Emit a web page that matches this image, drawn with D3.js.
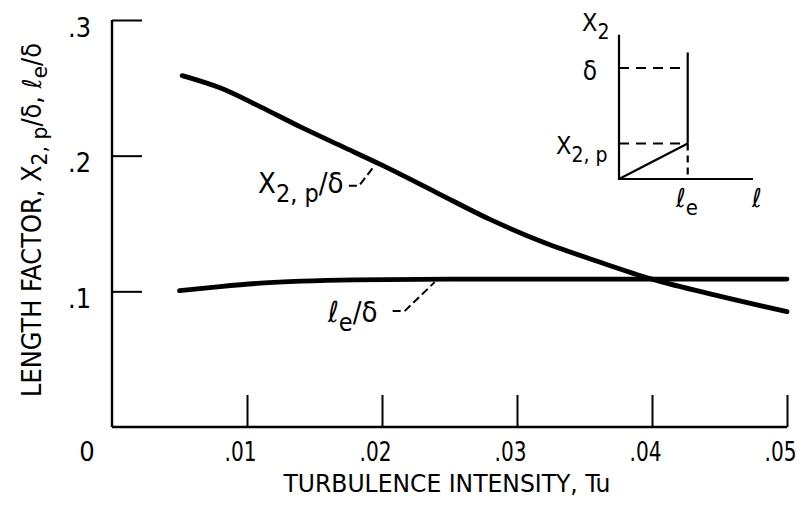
<!DOCTYPE html>
<html>
<head>
<meta charset="utf-8">
<script src="https://cdn.jsdelivr.net/npm/d3@7"></script>
<style>
  body { margin: 0; background: #fff; }
  svg { display: block; }
  text { font-family: "Liberation Sans Narrow", "DejaVu Sans Condensed", "Liberation Sans", sans-serif; fill: #000; }
</style>
</head>
<body>
<svg id="chart" width="804" height="505"></svg>
<script>
// Peak-location factor X2,p/δ against turbulence intensity
const tuX2p = [0.0052, 0.0080, 0.0110, 0.0140, 0.0170, 0.0200, 0.0240, 0.0280, 0.0320, 0.0360, 0.0400, 0.0450, 0.0500];
const x2p   = [0.259,  0.250,  0.236,  0.221,  0.207,  0.193,  0.173,  0.153,  0.136,  0.122,  0.109,  0.0965, 0.085];

// Length factor ℓe/δ against turbulence intensity
const tuLe = [0.0050, 0.0080, 0.0110, 0.0140, 0.0180, 0.0250, 0.0350, 0.0450, 0.0500];
const le   = [0.1005, 0.1035, 0.1060, 0.1075, 0.1085, 0.1090, 0.1090, 0.1090, 0.1090];

const xTicks = [0.01, 0.02, 0.03, 0.04, 0.05];
const xTickLabels = [".01", ".02", ".03", ".04", ".05"];
const yTicks = [0.1, 0.2, 0.3];
const yTickLabels = [".1", ".2", ".3"];
const originLabel = "0";

// Schematic inset: ℓ axis and X2 axis, in units of δ
const insetLe = 1.0;      // edge of the region, ℓe
const insetDelta = 1.0;   // δ
const insetX2p = 0.32;    // X2,p
const insetXMax = 1.95;
const insetYMax = 1.3;
const insetLeTop = 1.14;

const svg = d3.select("#chart");

const x = d3.scaleLinear().domain([0, 0.05]).range([112, 787]);
const y = d3.scaleLinear().domain([0, 0.3]).range([427, 20]);

// ---- axes ----
const xAxis = d3.axisBottom(x).tickValues(xTicks).tickSizeInner(-32).tickSizeOuter(0)
  .tickFormat((d, i) => xTickLabels[i]).tickPadding(0);
const gx = svg.append("g").attr("transform", `translate(0,${y(0)})`).call(xAxis);
gx.select(".domain").attr("stroke", "#000").attr("stroke-width", 2.4).attr("d", `M${x(0)},0H${x(0.05)}`);
gx.selectAll(".tick line").attr("stroke", "#000").attr("stroke-width", 2);
gx.selectAll(".tick text").attr("font-size", 27).attr("y", 0).attr("dy", 34)
  .attr("dx", -7).attr("text-anchor", "middle")
  .attr("textLength", 32).attr("lengthAdjust", "spacingAndGlyphs");

const yAxis = d3.axisLeft(y).tickValues(yTicks).tickSizeInner(-30).tickSizeOuter(0)
  .tickFormat((d, i) => yTickLabels[i]).tickPadding(21);
const gy = svg.append("g").attr("transform", `translate(${x(0)},0)`).call(yAxis);
gy.select(".domain").attr("stroke", "#000").attr("stroke-width", 2.4).attr("d", `M0,${y(0)}V${y(0.3)}`);
gy.selectAll(".tick line").attr("stroke", "#000").attr("stroke-width", 2);
gy.selectAll(".tick text").attr("font-size", 27).attr("dy", 16)
  .attr("textLength", 23).attr("lengthAdjust", "spacingAndGlyphs");

svg.append("text").attr("x", x(0) - 25).attr("y", y(0) + 34)
  .attr("font-size", 27).attr("text-anchor", "middle").text(originLabel);

// ---- axis titles ----
svg.append("text").attr("x", 447).attr("y", 492).attr("font-size", 25)
  .attr("text-anchor", "middle").attr("textLength", 327).attr("lengthAdjust", "spacingAndGlyphs")
  .text("TURBULENCE INTENSITY, Tu");

const yt = svg.append("text").attr("transform", "translate(41,220) rotate(-90)")
  .attr("font-size", 26).attr("text-anchor", "middle")
  .attr("textLength", 354).attr("lengthAdjust", "spacingAndGlyphs");
yt.append("tspan").text("LENGTH FACTOR, X");
yt.append("tspan").attr("dy", 6).attr("font-size", 22).text("2, p");
yt.append("tspan").attr("dy", -6).text("/δ, ℓ");
yt.append("tspan").attr("dy", 6).attr("font-size", 22).text("e");
yt.append("tspan").attr("dy", -6).text("/δ");

// ---- curves ----
const line = d3.line().curve(d3.curveMonotoneX).x(d => x(d[0])).y(d => y(d[1]));

svg.append("path").datum(tuX2p.map((t, i) => [t, x2p[i]]))
  .attr("d", line).attr("fill", "none").attr("stroke", "#000")
  .attr("stroke-width", 4.8).attr("stroke-linecap", "round");

svg.append("path").datum(tuLe.map((t, i) => [t, le[i]]))
  .attr("d", line).attr("fill", "none").attr("stroke", "#000")
  .attr("stroke-width", 4.8).attr("stroke-linecap", "round");

// ---- curve labels with dashed leaders ----
const lblX2p = svg.append("text").attr("x", 258).attr("y", 193).attr("font-size", 29);
lblX2p.append("tspan").text("X");
lblX2p.append("tspan").attr("dy", 9).attr("font-size", 25).text("2, p");
lblX2p.append("tspan").attr("dy", -9).text("/δ");

const a1 = [x(0.0194), y(0.1925)];
svg.append("path")
  .attr("d", `M${a1[0] - 25},${a1[1] + 20}h10L${a1[0] - 1},${a1[1] + 2}`)
  .attr("fill", "none").attr("stroke", "#000").attr("stroke-width", 2).attr("stroke-dasharray", "8,4");

const lblLe = svg.append("text").attr("x", 328).attr("y", 322).attr("font-size", 29);
lblLe.append("tspan").text("ℓ");
lblLe.append("tspan").attr("dy", 9).attr("font-size", 25).text("e");
lblLe.append("tspan").attr("dy", -9).text("/δ");

const a2 = [x(0.0239), y(0.109)];
svg.append("path")
  .attr("d", `M${a2[0] - 42},${a2[1] + 32}h12L${a2[0]},${a2[1] + 3}`)
  .attr("fill", "none").attr("stroke", "#000").attr("stroke-width", 2).attr("stroke-dasharray", "8,4");

// ---- schematic inset ----
const ix = d3.scaleLinear().domain([0, insetXMax]).range([619, 753]);
const iy = d3.scaleLinear().domain([0, insetDelta]).range([179, 68]);
const inset = svg.append("g").attr("stroke", "#000").attr("fill", "none").attr("stroke-width", 2.2);

inset.append("path").attr("d", `M${ix(0)},${iy(insetYMax)}V${iy(0)}H${ix(insetXMax)}`);
inset.append("path").attr("d", `M${ix(insetLe)},${iy(insetLeTop)}V${iy(insetX2p)}`);
inset.append("path").attr("d", `M${ix(insetLe)},${iy(insetX2p)}V${iy(0)}`).attr("stroke-dasharray", "7,5");
inset.append("path").attr("d", `M${ix(0)},${iy(insetDelta)}H${ix(insetLe)}`).attr("stroke-dasharray", "10,7");
inset.append("path").attr("d", `M${ix(0)},${iy(insetX2p)}H${ix(insetLe)}`).attr("stroke-dasharray", "10,7");
inset.append("path").attr("d", `M${ix(0)},${iy(0)}L${ix(insetLe)},${iy(insetX2p)}`);

const iX2 = svg.append("text").attr("x", 582).attr("y", 31).attr("font-size", 25);
iX2.append("tspan").text("X");
iX2.append("tspan").attr("dy", 8).attr("font-size", 21).text("2");

svg.append("text").attr("x", 590).attr("y", 80).attr("font-size", 26).attr("text-anchor", "middle").text("δ");

const iX2p = svg.append("text").attr("x", 556).attr("y", 154).attr("font-size", 25);
iX2p.append("tspan").text("X");
iX2p.append("tspan").attr("dy", 8).attr("font-size", 21).text("2, p");

const iLe = svg.append("text").attr("x", 676).attr("y", 207).attr("font-size", 26);
iLe.append("tspan").text("ℓ");
iLe.append("tspan").attr("dy", 8).attr("font-size", 22).text("e");

svg.append("text").attr("x", 752).attr("y", 207).attr("font-size", 26).text("ℓ");
</script>
</body>
</html>
